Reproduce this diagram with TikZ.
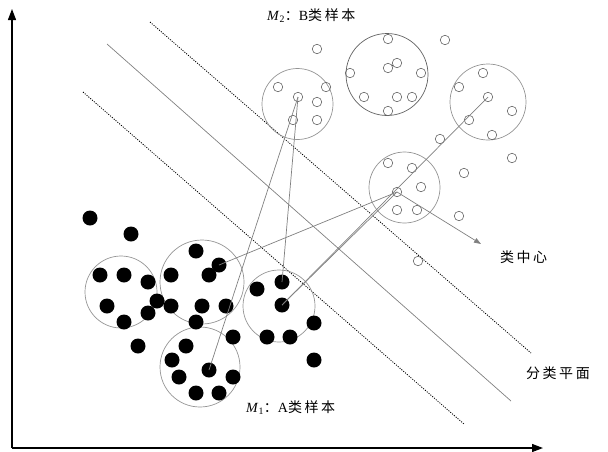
\documentclass[tikz,border=0pt]{standalone}
\usepackage{fontspec}
\setmainfont{Liberation Serif}
\newfontfamily\cjk[LetterSpace=18]{Noto Sans CJK SC}
\usetikzlibrary{arrows.meta}

\tikzset{
  adot/.style={circle, fill=black, inner sep=0pt, minimum size=15pt},
  bdot/.style={circle, draw=black!60, line width=0.6pt, fill=none, inner sep=0pt, minimum size=9.5pt},
  group/.style={circle, draw=black!42, line width=0.7pt, inner sep=0pt},
  link/.style={draw=black!50, line width=0.7pt},
  axis/.style={draw=black, line width=1.3pt, -{Triangle[length=11pt,width=8pt]}},
  margin/.style={draw=black, line width=0.8pt, dash pattern=on 1.1pt off 1.3pt},
  plane/.style={draw=black!50, line width=0.7pt},
  lbl/.style={inner sep=0pt, font=\fontsize{14}{16}\selectfont}
}

\begin{document}
\begin{tikzpicture}[x=1pt, y=-1pt]
\useasboundingbox (0,0) rectangle (608,451);

% axes
\coordinate (O) at (12,448);
\coordinate (ytip) at (12,9);
\coordinate (xtip) at (543,448);
\draw[axis] (O) -- (ytip);
\draw[axis] (O) -- (xtip);

% separating plane and the two margin lines
\coordinate (m1s) at (150,22);  \coordinate (m1e) at (531,353);
\coordinate (ps)  at (107,44);  \coordinate (pe)  at (511,401);
\coordinate (m2s) at (83,92);   \coordinate (m2e) at (464,424);
\draw[margin] (m1s) -- (m1e);
\draw[plane]  (ps) -- (pe);
\draw[margin] (m2s) -- (m2e);

% class A groups
\node[group, minimum size=72pt] (ga1) at (121,292) {};
\node[group, minimum size=84pt] (ga2) at (202,282) {};
\node[group, minimum size=80pt] (ga3) at (200,367) {};
\node[group, minimum size=72pt] (ga4) at (279,306) {};

% class B groups
\node[group, minimum size=71pt] (gb1) at (297.5,104) {};
\node[group, draw=black!62, minimum size=82pt] (gb2) at (387,74.5) {};
\node[group, minimum size=76pt] (gb3) at (488,102) {};
\node[group, minimum size=71pt] (gb4) at (404.5,187.5) {};

% class A samples
\foreach \n/\x/\y in {
  a01/90/218, a02/131/234,
  a03/100/275, a04/124/275, a05/148/282, a06/107/306, a07/148/313, a08/124/322,
  a09/157/301, a10/138/346,
  a11/196/251, a12/219/265, a13/209/275, a14/171/275, a15/171/306, a16/202/306, a17/226/306, a18/196/322,
  a19/186/346, a20/172/360, a21/209/370, a22/179/377, a23/233/377, a24/196/393, a25/219/393,
  a26/233/337,
  a27/257/289, a28/282/282, a29/282/305, a30/267/337, a31/290/337,
  a32/314/323, a33/314/360}
  \node[adot] (\n) at (\x,\y) {};

% class B samples
\foreach \n/\x/\y in {
  b01/317/49,
  b02/278/87, b03/298/97, b04/326/87, b05/317/102, b06/293/120, b07/317/120,
  b08/388/39, b09/397/63, b10/388/68, b11/350/73, b12/421/73, b13/364/97, b14/397/97, b15/412/97, b16/388/111,
  b17/445/40,
  b18/483/73, b19/459/87, b20/488/97, b21/512/111, b22/469/120, b23/492/135,
  b24/440/139, b25/512/158, b26/464/173,
  b27/388/163, b28/412/168, b29/421/187, b30/397/192, b31/397/210, b32/417/210,
  b33/459/216, b34/418/261}
  \node[bdot] (\n) at (\x,\y) {};

% links between group centres
\draw[link] (a21.center) -- (b03.center);
\draw[link] (a28.center) -- (b03.center);
\draw[link] (a12.center) -- (b30.center);
\draw[link] (a29.center) -- (b30.center);
\draw[link] (b20.center) -- (a29.center);
\draw[black!80, line width=0.6pt, shorten <=4.6pt, shorten >=4.6pt] (b09.center) -- (b10.center);

% pointer to a class centre
\coordinate (ctip) at (481,244);
\draw[link, -{Triangle[length=7pt,width=5pt]}] (b30.center) -- (ctip);

% labels
\node[lbl, anchor=west] (lm2) at (267,16) {\textit{M}\textsubscript{2}{\cjk：}B{\cjk 类样本}};
\node[lbl, anchor=west] (lm1) at (246,408) {\textit{M}\textsubscript{1}{\cjk：}A{\cjk 类样本}};
\node[lbl, anchor=west] (lc) at (500,257) {\cjk 类中心};
\node[lbl, anchor=west] (lp) at (526,373) {\cjk 分类平面};
\end{tikzpicture}
\end{document}
